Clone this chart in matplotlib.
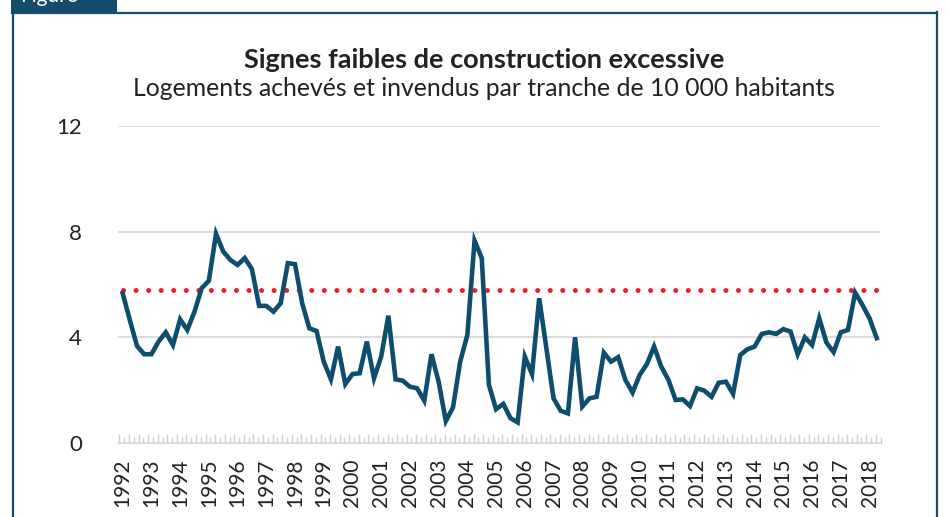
import matplotlib
matplotlib.use("Agg")
import matplotlib.pyplot as plt
from matplotlib.patches import Rectangle
from matplotlib.lines import Line2D
import numpy as np

plt.rcParams['font.family'] = ['Lato', 'DejaVu Sans']

title = "Signes faibles de construction excessive"
subtitle = "Logements achevés et invendus par tranche de 10 000 habitants"
years = list(range(1992, 2019))
reference_level = 5.8
# quarterly values, 1992T1 .. 2018T2
values = [5.67, 4.65, 3.67, 3.36, 3.36, 3.84, 4.19, 3.71, 4.68, 4.28,
          4.97, 5.86, 6.14, 7.92, 7.25, 6.93, 6.74, 7.00, 6.58, 5.19,
          5.19, 4.97, 5.29, 6.81, 6.77, 5.29, 4.34, 4.24, 3.08, 2.41,
          3.65, 2.23, 2.61, 2.64, 3.84, 2.45, 3.27, 4.82, 2.41, 2.36,
          2.13, 2.07, 1.60, 3.36, 2.32, 0.83, 1.35, 3.08, 4.09, 7.66,
          7.00, 2.20, 1.28, 1.48, 0.94, 0.78, 3.27, 2.61, 5.48, 3.59,
          1.69, 1.22, 1.12, 4.00, 1.38, 1.69, 1.75, 3.42, 3.08, 3.25,
          2.39, 1.91, 2.58, 2.99, 3.65, 2.89, 2.39, 1.63, 1.65, 1.40,
          2.07, 1.98, 1.75, 2.28, 2.32, 1.86, 3.33, 3.55, 3.65, 4.13,
          4.19, 4.13, 4.31, 4.22, 3.36, 4.00, 3.71, 4.72, 3.80, 3.44,
          4.19, 4.28, 5.69, 5.23, 4.72, 3.97]
yticks = [0, 4, 8, 12]

W, H = 948, 517
fig = plt.figure(figsize=(W / 100, H / 100), dpi=100)

# frame
navy = '#174b6c'
fig.add_artist(Line2D([12 / W, 937 / W], [1 - 12.5 / H, 1 - 12.5 / H], color=navy, lw=1.6, transform=fig.transFigure))
fig.add_artist(Line2D([12.5 / W, 12.5 / W], [0, 1 - 12 / H], color=navy, lw=1.6, transform=fig.transFigure))
fig.add_artist(Line2D([937 / W, 937 / W], [0, 1 - 12 / H], color=navy, lw=1.6, transform=fig.transFigure))
fig.add_artist(Rectangle((11 / W, 1 - 13 / H), 106 / W, 13 / H, facecolor=navy, edgecolor='none', transform=fig.transFigure))
fig.text(20 / W, 1 - 2 / H, "Figure", color='white', fontsize=15, va='baseline', ha='left')

ax = fig.add_axes([118 / W, (H - 443) / H, (880 - 118) / W, (443 - 126) / H])
x = np.arange(len(values))
ax.set_xlim(-0.65, len(values) - 1 + 0.46)
ax.set_ylim(0, 12)

for y in yticks[1:]:
    ax.axhline(y, color='#d9d9d9', lw=1.3, zorder=1)

ax.hlines(reference_level, 0, len(values) - 1, colors='#ee1c2e', linestyles=(0, (0.01, 2.5)),
          lw=3.6, capstyle='round', zorder=2)
ax.plot(x, values, color='#0d4d6d', lw=3.3, solid_joinstyle='miter', zorder=3)

for s in ['top', 'right', 'left']:
    ax.spines[s].set_visible(False)
ax.spines['bottom'].set_color('#d9d9d9')
ax.spines['bottom'].set_linewidth(1.3)

ax.set_yticks(yticks)
ax.set_yticklabels([str(v) for v in yticks], fontsize=16, color='#222222')
ax.tick_params(axis='y', length=0, pad=26)

year_pos = [4 * i for i in range(len(years))]
ax.set_xticks(year_pos)
ax.set_xticklabels([str(yv) for yv in years], rotation=90, fontsize=15, color='#222222')
ax.tick_params(axis='x', length=0, pad=11)

# small tick marks along baseline
tick_step = 4 / 6
tpos = np.arange(-0.45, len(values), tick_step)
for i, t in enumerate(tpos):
    h = 0.3 if i % 2 == 0 else 0.18
    ax.plot([t, t], [0, h], color='#cfcfcf', lw=1.0, zorder=1, clip_on=False)

fig.text(484 / W, 1 - 60 / H, title, ha='center', va='center', fontsize=19.5, fontweight='bold', color='#222222')
fig.text(484 / W, 1 - 89 / H, subtitle, ha='center', va='center', fontsize=17.8, color='#222222')

fig.savefig('out.png', dpi=100)
